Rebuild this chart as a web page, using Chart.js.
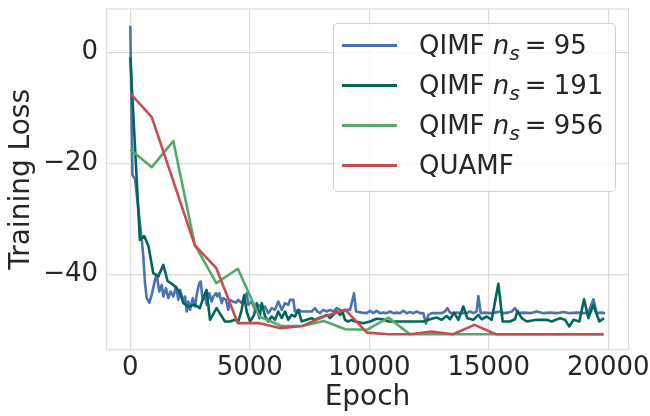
<!DOCTYPE html>
<html>
<head>
<meta charset="utf-8">
<script src="https://cdn.jsdelivr.net/npm/chart.js@4.4.1/dist/chart.umd.min.js"></script>
<style>
html,body{margin:0;padding:0;background:#fff;}
#wrap{position:relative;width:650px;height:416px;}
#c{position:absolute;left:0;top:0;}
#legend{position:absolute;left:333px;top:23px;width:281px;height:167px;border:1px solid rgba(200,200,200,0.85);border-radius:5px;background:rgba(255,255,255,0.8);font-family:"DejaVu Sans";font-size:26px;color:#262626;}
.row{position:absolute;left:0;width:281px;height:40px;}
.sw{position:absolute;left:8px;top:19px;width:55px;height:3px;}
.tx{position:absolute;left:85px;top:0;line-height:40px;white-space:nowrap;}
.tx i{font-style:italic;}
.tx sub{font-size:78%;vertical-align:-0.3em;line-height:0;}
.eq{margin:0 7px 0 5px;}
</style>
</head>
<body>
<div id="wrap">
<canvas id="c" width="650" height="416"></canvas>
<div id="legend"></div>
</div>
<script>
// ---- data ----
const xTickValues = [0, 5000, 10000, 15000, 20000];
const yTickValues = [-40, -20, 0];

const seriesNames = ["QIMF", "QIMF", "QIMF", "QUAMF"];
const seriesNs = [95, 191, 956, null];

const blueEpochs = [0,90,200,480,545,615,686,795,895,1033,1104,1213,1314,1381,1494,1590,1690,1799,1912,2008,2079,2218,2289,2360,2427,2498,2611,2707,2803,2887,2946,3029,3126,3197,3305,3406,3473,3586,3640,3724,3824,3891,4004,4100,4172,4284,4423,4519,4661,4757,4870,4937,5079,5218,5356,5498,5636,5774,5916,6054,6192,6335,6473,6611,6682,6820,6891,7029,7171,7380,7590,7729,7827,7939,8078,8218,8357,8497,8636,8776,8915,9055,9194,9361,9445,9681,9891,10030,10170,10309,10449,10588,10728,10867,11007,11146,11286,11425,11565,11704,11844,11983,12123,12262,12374,12471,12611,12820,13029,13169,13266,13378,13518,13657,13866,14076,14215,14355,14494,14564,14661,14843,15052,15261,15471,15610,15819,15959,16098,16238,16447,16726,17005,17284,17563,17842,18121,18400,18679,18958,19167,19377,19516,19725,19865];
const blueLoss = [4.8,-22.1,-22.9,-33.8,-36.8,-41.6,-44.3,-45.1,-43.7,-41.0,-40.1,-43.1,-41.9,-44.0,-42.5,-44.3,-43.1,-44.0,-42.2,-44.6,-42.8,-44.9,-44.0,-46.7,-44.9,-46.4,-44.3,-45.8,-43.1,-41.6,-41.3,-44.6,-44.0,-45.5,-43.4,-44.9,-44.0,-43.4,-44.0,-43.4,-45.2,-44.3,-44.6,-46.4,-44.6,-44.9,-45.1,-44.6,-45.2,-44.3,-43.4,-45.5,-44.9,-46.4,-45.5,-46.1,-45.8,-47.0,-46.1,-46.4,-44.9,-46.4,-45.2,-45.5,-44.6,-44.6,-46.7,-46.4,-46.7,-46.7,-46.7,-46.1,-46.7,-47.0,-46.4,-46.7,-46.4,-46.7,-46.1,-46.4,-46.7,-46.4,-46.4,-43.4,-46.7,-46.9,-47.0,-46.6,-47.0,-46.6,-47.0,-46.9,-47.0,-46.7,-47.0,-46.9,-47.0,-46.6,-47.0,-46.8,-47.0,-46.7,-47.0,-47.0,-48.9,-47.3,-47.0,-47.0,-47.0,-46.7,-46.1,-46.9,-47.0,-46.9,-47.0,-47.0,-46.7,-47.0,-46.7,-43.9,-47.0,-46.9,-47.0,-46.9,-46.7,-47.0,-46.9,-46.7,-46.1,-47.0,-46.9,-47.0,-46.7,-47.0,-46.9,-47.0,-46.8,-47.0,-46.9,-47.0,-46.9,-44.5,-47.0,-46.9,-47.0];

const tealEpochs = [0,400,580,760,960,1170,1380,1560,1800,1940,2080,2220,2430,2700,2910,3050,3190,3335,3610,3960,4170,4380,4520,4660,4760,4870,5010,5180,5290,5400,5500,5640,5775,5915,6055,6190,6335,6475,6610,6750,6890,7030,7170,7380,7590,7730,7870,8075,8220,8355,8495,8635,8775,8890,8985,9120,9265,9400,9612,9750,10030,10300,10588,10797,12262,12541,12820,13029,13238,13378,13545,13727,13936,14103,14354,14564,14703,14913,15122,15401,15582,15889,16098,16196,16377,16587,17005,17424,17633,17982,18191,18372,18540,18790,18986,19167,19376,19627,19823];
const tealLoss = [-0.9,-33.8,-33.1,-34.9,-39.8,-40.4,-38.3,-41.2,-41.9,-42.5,-43.4,-45.2,-45.8,-45.5,-46.1,-44.3,-42.8,-48.2,-46.1,-48.5,-48.5,-48.2,-48.5,-46.4,-43.8,-46.7,-48.5,-47.3,-45.2,-47.9,-45.2,-47.6,-48.5,-47.6,-48.2,-46.7,-47.9,-46.7,-48.2,-47.3,-47.6,-46.4,-48.5,-48.2,-47.9,-48.2,-47.9,-47.6,-47.3,-47.9,-47.3,-46.7,-47.3,-46.9,-48.2,-48.5,-48.2,-48.5,-48.7,-48.8,-48.5,-48.0,-48.1,-48.5,-48.5,-48.1,-47.8,-48.2,-47.5,-48.1,-46.9,-48.2,-45.8,-47.9,-48.2,-47.3,-48.1,-47.6,-48.2,-41.7,-48.5,-48.5,-48.1,-46.6,-47.9,-48.5,-48.2,-48.2,-48.5,-47.9,-48.2,-49.4,-48.2,-48.5,-44.5,-47.9,-45.5,-48.5,-47.9];

const coarseEpochs = [0,900,1800,2700,3600,4500,5400,6300,7200,8100,9000,9900,10800,11700,12600,13500,14400,15300,16200,17100,18000,18900,19800];
const greenLoss = [-17.5,-20.7,-16.0,-34.7,-41.6,-39.0,-47.6,-49.3,-49.3,-48.4,-49.9,-50.0,-47.8,-50.8,-50.8,-50.8,-50.8,-50.8,-50.8,-50.8,-50.8,-50.8,-50.8];
const redLoss = [-7.4,-11.7,-23.2,-34.8,-38.9,-48.8,-48.8,-49.7,-49.3,-47.6,-46.4,-50.5,-50.8,-50.8,-50.3,-50.8,-49.1,-50.8,-50.8,-50.8,-50.8,-50.8,-50.8];

// ---- styles ----
const seriesColors = ["#4C72B0", "#02665B", "#55A868", "#C44E52"];
const TEXT = "#262626";
const GRID = "#dcdcdc";

const pts = (xs, ys) => xs.map((x, i) => ({x: x, y: ys[i]}));
const seriesData = [
  pts(blueEpochs, blueLoss),
  pts(tealEpochs, tealLoss),
  pts(coarseEpochs, greenLoss),
  pts(coarseEpochs, redLoss)
];
const labelText = (i) => seriesNs[i] === null ? seriesNames[i] : seriesNames[i] + " n\u209B = " + seriesNs[i];

const fmt = (v) => (v < 0 ? "\u2212" : "") + Math.abs(v);

const framePlugin = {
  id: "frame",
  afterDraw(chart) {
    const a = chart.chartArea, ctx = chart.ctx;
    ctx.save();
    ctx.strokeStyle = GRID;
    ctx.lineWidth = 1.2;
    ctx.strokeRect(a.left, a.top, a.right - a.left, a.bottom - a.top);
    ctx.restore();
  }
};

const chart = new Chart(document.getElementById("c"), {
  type: "line",
  data: {
    datasets: seriesData.map((d, i) => ({
      label: labelText(i),
      data: d,
      borderColor: seriesColors[i],
      backgroundColor: seriesColors[i],
      borderWidth: 2.6,
      pointRadius: 0,
      tension: 0,
      fill: false,
      borderJoinStyle: "round",
      order: 4 - i
    }))
  },
  options: {
    responsive: false,
    animation: false,
    devicePixelRatio: 1,
    layout: {padding: {top: 9, right: 21.6, left: 0, bottom: 0}},
    plugins: {legend: {display: false}, tooltip: {enabled: false}},
    scales: {
      x: {
        type: "linear",
        min: -992, max: 20842,
        afterBuildTicks: (s) => { s.ticks = xTickValues.map(v => ({value: v})); },
        afterFit: (s) => { s.height = 66.2; s.paddingLeft = 0; s.paddingRight = 0; },
        ticks: {callback: fmt, color: TEXT, padding: 2.4, maxRotation: 0, autoSkip: false,
                font: {family: "DejaVu Sans", size: 26}},
        grid: {color: GRID, lineWidth: 1.2, drawTicks: false},
        border: {display: false},
        title: {display: true, text: "Epoch", color: TEXT, padding: {top: 0, bottom: 1.2},
                font: {family: "DejaVu Sans", size: 28, lineHeight: 1.2}}
      },
      y: {
        type: "linear",
        min: -53.6, max: 7.8,
        afterBuildTicks: (s) => { s.ticks = yTickValues.map(v => ({value: v})); },
        afterFit: (s) => { s.width = 106.6; s.paddingTop = 0; s.paddingBottom = 0; },
        ticks: {callback: fmt, color: TEXT, padding: 8.5, autoSkip: false,
                font: {family: "DejaVu Sans", size: 26}},
        grid: {color: GRID, lineWidth: 1.2, drawTicks: false},
        border: {display: false},
        title: {display: true, text: "Training Loss", color: TEXT, padding: {top: 4.7, bottom: 0},
                font: {family: "DejaVu Sans", size: 28, lineHeight: 1.2}}
      }
    }
  },
  plugins: [framePlugin]
});

// HTML legend built from the chart's datasets
const legend = document.getElementById("legend");
chart.data.datasets.forEach((ds, i) => {
  const row = document.createElement("div");
  row.className = "row";
  row.style.top = (1 + 40 * i) + "px";
  const sw = document.createElement("span");
  sw.className = "sw";
  sw.style.background = ds.borderColor;
  const tx = document.createElement("span");
  tx.className = "tx";
  if (seriesNs[i] === null) {
    tx.textContent = seriesNames[i];
  } else {
    tx.innerHTML = seriesNames[i] + " <i>n<sub>s</sub></i><span class=\"eq\">=</span>" + seriesNs[i];
  }
  row.appendChild(sw);
  row.appendChild(tx);
  legend.appendChild(row);
});
</script>
</body>
</html>
